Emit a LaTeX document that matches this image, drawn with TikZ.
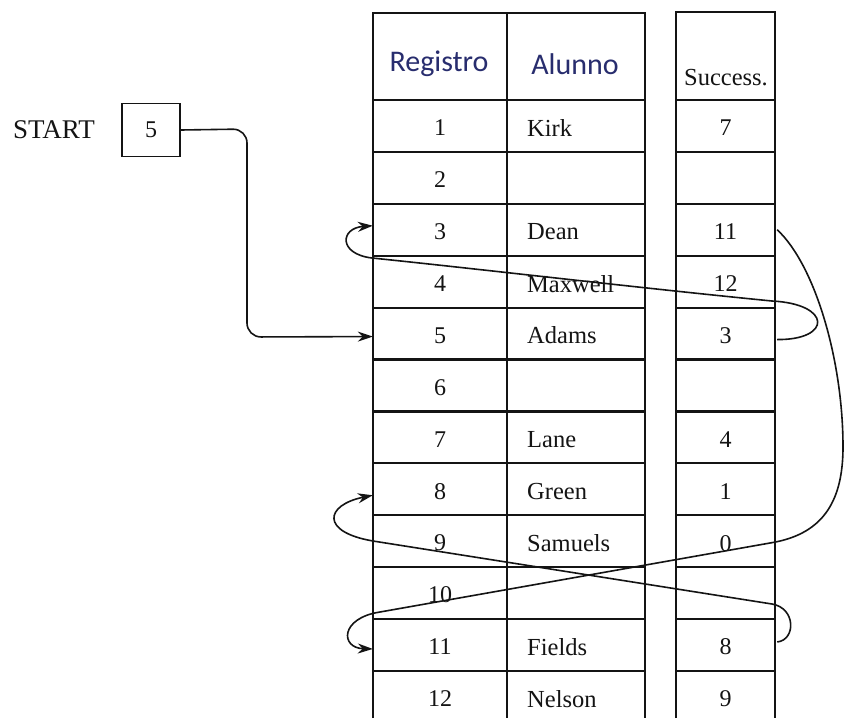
\documentclass[tikz,border=0pt]{standalone}
\usepackage{fontspec}
\setmainfont{Liberation Serif}
\newfontfamily\hdrfont{Carlito}
\usetikzlibrary{arrows.meta,calc}
\definecolor{navy}{RGB}{40,45,110}
\definecolor{ink}{RGB}{20,20,20}
\tikzset{
  grid/.style={line width=2.2pt, draw=ink},
  link/.style={line width=1.6pt, draw=ink},
  arr/.style={-{Stealth[length=15pt,width=10pt]}},
  txt/.style={font=\fontsize{24}{26}\selectfont, text=ink, inner sep=0pt},
  nametxt/.style={font=\fontsize{24.5}{26}\selectfont, text=ink, inner sep=0pt},
  numcell/.style={txt, minimum width=134pt, minimum height=48pt},
  succcell/.style={txt, minimum width=99pt, minimum height=48pt},
  hdr/.style={font=\hdrfont\fontsize{30}{32}\selectfont, text=navy, inner sep=0pt},
}
\begin{document}
\begin{tikzpicture}[x=1pt,y=-1pt]
\fill[white] (0,0) rectangle (846,718);
\useasboundingbox (0,0) rectangle (846,718);

% table grid
\draw[grid] (373,718) -- (373,13) -- (645,13) -- (645,718);
\draw[grid] (507,13) -- (507,718);
\draw[grid] (676,718) -- (676,12) -- (775,12) -- (775,718);
\foreach \k in {0,...,11}{
  \draw[grid] (373,{100+\k*51.9}) -- (645,{100+\k*51.9});
  \draw[grid] (676,{100+\k*51.9}) -- (775,{100+\k*51.9});
}

% headers
\node[hdr] (hreg) at (439,64) {Registro};
\node[hdr] (halu) at (575,64) {Alunno};
\node[nametxt] (hsuc) at (726,78) {Success.};

% rows
\foreach \i/\nm/\sv in {1/Kirk/7,2//,3/Dean/11,4/Maxwell/12,5/Adams/3,6//,7/Lane/4,8/Green/1,9/Samuels/0,10//,11/Fields/8,12/Nelson/9}{
  \pgfmathsetmacro{\yc}{100+(\i-0.5)*51.9+2}
  \node[numcell] (n\i) at (440,\yc) {\i};
  \node[nametxt, anchor=west] (a\i) at (527,\yc) {\nm};
  \node[succcell] (s\i) at (725.5,\yc) {\sv};
}

% start pointer
\node[font=\fontsize{27}{29}\selectfont, text=ink, inner sep=0pt] (start) at (54,130) {START};
\node[txt, draw=ink, line width=1.5pt, minimum width=58pt, minimum height=53pt] (box) at (151,130) {5};

\draw[link,arr,rounded corners=14pt] (box.east) -- (247,129) -- (247,337) -- ($(n5.west)+(0,1)$);

% 5 -> 3
\draw[link,arr] ($(s5.east)+(2,4)$) .. controls (832,340) and (832,304) .. (772,301)
  .. controls (640,288) and (470,268) .. (372,258)
  .. controls (338,254) and (340,228) .. ($(n3.west)+(0,-6)$);

% 3 -> 11
\draw[link,arr] ($(s3.east)+(2,-2)$) .. controls (815,265) and (843,360) .. (843,447)
  .. controls (843,505) and (820,535) .. (770,543) -- (380,612)
  .. controls (340,618) and (340,648) .. ($(n11.west)+(0,2)$);

% 11 -> 8
\draw[link,arr] ($(s11.east)+(2,-5)$) .. controls (796,640) and (796,608) .. (772,604)
  -- (373,541) .. controls (320,532) and (325,505) .. ($(n8.west)+(0,4)$);
\end{tikzpicture}
\end{document}
